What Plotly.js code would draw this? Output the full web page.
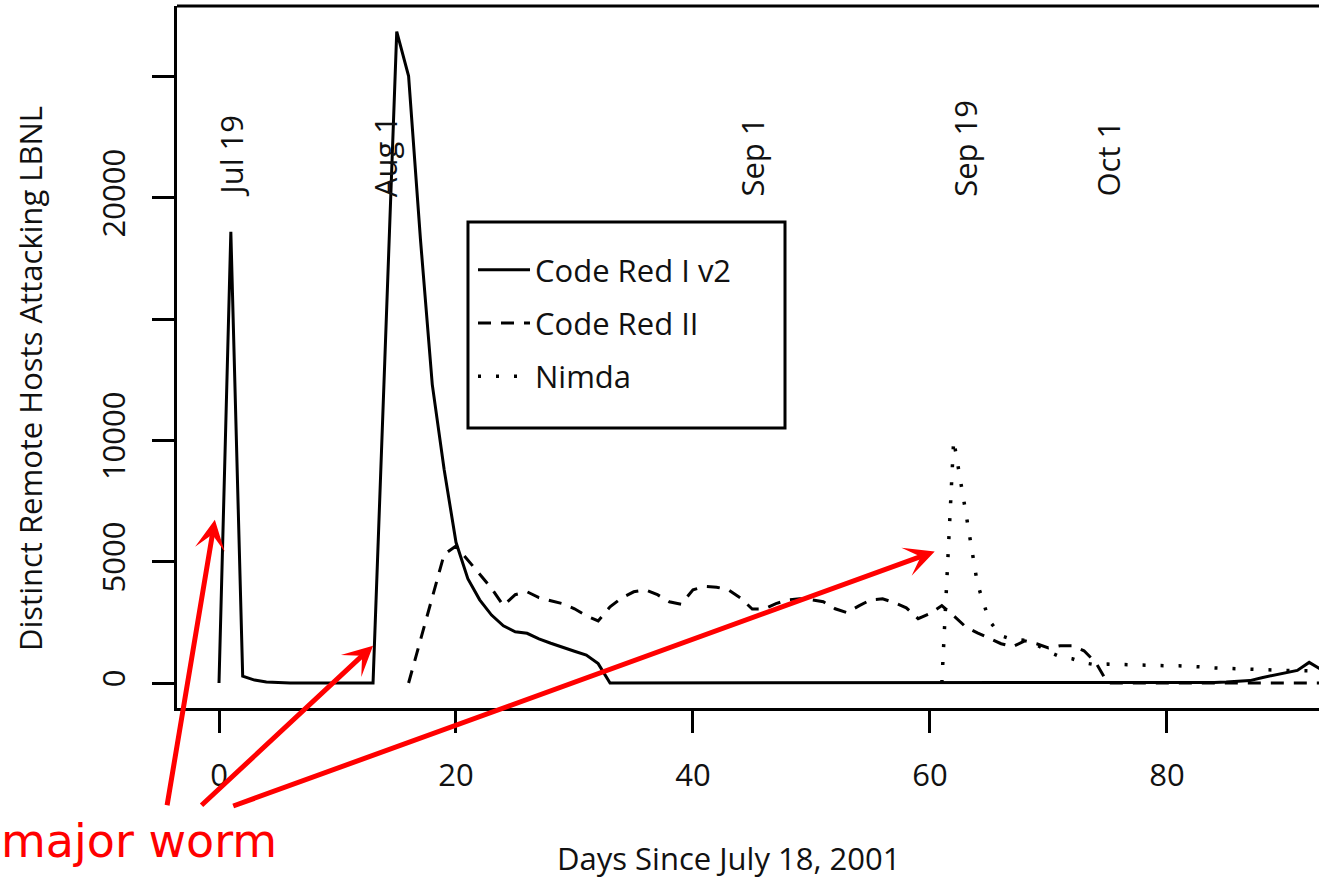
<!DOCTYPE html>
<html>
<head>
<meta charset="utf-8">
<script src="https://cdn.plot.ly/plotly-3.0.1.min.js"></script>
<style>
  html, body { margin: 0; padding: 0; background: #ffffff; overflow: hidden; }
  #chart { width: 1319px; height: 880px; }
</style>
</head>
<body>
<div id="chart"></div>
<script>
// ---- data ----
const days = [0,1,2,3,4,5,6,7,8,9,10,11,12,13,14,15,16,17,18,19,20,21,22,23,24,25,26,27,28,29,30,31,32,33,34,35,36,37,38,39,40,41,42,43,44,45,46,47,48,49,50,51,52,53,54,55,56,57,58,59,60,61,62,63,64,65,66,67,68,69,70,71,72,73,74,75,76,77,78,79,80,81,82,83,84,85,86,87,88,89,90,91,92,93,94];

const codeRedIv2 = [0,18600,280,120,40,10,0,0,0,0,0,0,0,0,13400,26850,25020,18300,12300,8800,5800,4300,3430,2800,2360,2110,2050,1820,1640,1460,1310,1150,800,0,0,0,0,0,0,0,0,0,0,0,0,0,0,0,0,0,0,0,0,0,0,0,0,0,0,0,0,0,0,0,0,0,0,0,0,0,0,0,0,0,0,0,0,0,0,0,0,0,0,10,25,40,60,100,220,330,420,520,850,560,500];

const codeRedII = [null,null,null,null,null,null,null,null,null,null,null,null,null,null,null,null,0,1780,3510,5300,5650,5080,4500,3900,3190,3640,3760,3520,3390,3270,3060,2770,2560,3140,3510,3760,3840,3640,3350,3250,3840,3980,3950,3840,3510,3050,3050,3270,3430,3470,3430,3350,3060,2900,3180,3430,3470,3310,3100,2650,2860,3190,2770,2320,2070,1830,1620,1500,1740,1620,1450,1540,1540,1330,840,0,0,0,0,0,0,0,0,0,0,0,0,0,0,0,0,0,0,0,0];

const nimda = [null,null,null,null,null,null,null,null,null,null,null,null,null,null,null,null,null,null,null,null,null,null,null,null,null,null,null,null,null,null,null,null,null,null,null,null,null,null,null,null,null,null,null,null,null,null,null,null,null,null,null,null,null,null,null,null,null,null,null,null,null,0,10020,7100,4100,2570,1950,1790,1760,1580,1290,1080,1000,830,750,780,760,740,720,715,710,710,700,660,620,600,570,550,540,530,520,510,500,500,490];

const seriesNames = ["Code Red I v2", "Code Red II", "Nimda"];
const xTickVals = [0, 20, 40, 60, 80];
const yTickVals = [0, 5000, 10000, 15000, 20000, 25000];
const yTickText = ["0", "5000", "10000", "", "20000", ""];

const eventDays = [1, 14, 45, 63, 75];
const eventLabels = ["Jul 19", "Aug 1", "Sep 1", "Sep 19", "Oct 1"];
const eventLabelBase = 20000;

const xTitle = "Days Since July 18, 2001";
const yTitle = "Distinct Remote Hosts Attacking LBNL";
const noteText = "major worm";
// arrow targets (day, value) for the three outbreaks
const arrowDays = [-0.35, 13.0, 60.4];
const arrowVals = [6730, 1540, 5420];

// ---- styling ----
const FONT = "Open Sans, Noto Sans, sans-serif";
const INK = "#111111";

const traces = [
  { x: days, y: codeRedIv2, name: seriesNames[0], mode: "lines", legendgroup: "a",
    line: { color: "#000000", width: 3 }, connectgaps: false },
  { x: days, y: codeRedII, name: seriesNames[1], mode: "lines", legendgroup: "b",
    line: { color: "#000000", width: 3, dash: "13px,10px" }, connectgaps: false },
  { x: days, y: nimda, name: seriesNames[2], mode: "lines", legendgroup: "c",
    line: { color: "#000000", width: 3.5, dash: "3px,15px" }, connectgaps: false }
];

const annotations = [];
eventDays.forEach((d, i) => {
  annotations.push({
    x: d, y: eventLabelBase, xref: "x", yref: "y", text: eventLabels[i],
    textangle: -90, showarrow: false, xanchor: "center", yanchor: "bottom",
    font: { family: FONT, size: 31, color: INK }, borderpad: 0
  });
});
annotations.push({
  xref: "paper", yref: "paper", x: 0.4825, y: -0.2137, text: xTitle, showarrow: false,
  xanchor: "center", yanchor: "middle", font: { family: FONT, size: 31, color: INK }
});
annotations.push({
  xref: "paper", yref: "paper", x: -0.1287, y: 0.4687, text: yTitle, showarrow: false,
  textangle: -90, xanchor: "center", yanchor: "middle", font: { family: FONT, size: 31, color: INK }
});
annotations.push({
  xref: "paper", yref: "paper", x: -0.1562, y: -0.1895, text: noteText, showarrow: false,
  xanchor: "left", yanchor: "middle", font: { family: "DejaVu Sans, sans-serif", size: 46, color: "#ff0000" }
});
const tails = [[-48, 287], [-173, 161], [-703, 255]];
arrowDays.forEach((d, i) => {
  annotations.push({
    x: d, y: arrowVals[i], xref: "x", yref: "y", text: "", showarrow: true,
    ax: tails[i][0], ay: tails[i][1], arrowcolor: "#ff0000", arrowwidth: 5,
    arrowhead: 3, arrowsize: 1, standoff: 0, startstandoff: 0
  });
});

const axisCommon = {
  showline: true, linecolor: "#000000", linewidth: 3, mirror: false,
  ticks: "outside", ticklen: 22, tickwidth: 3, tickcolor: "#000000",
  showgrid: false, zeroline: false, tickfont: { family: FONT, size: 31, color: INK }
};

const layout = {
  width: 1319, height: 880,
  margin: { l: 177, r: 0, t: 6, b: 172, pad: 0 },
  paper_bgcolor: "#ffffff", plot_bgcolor: "#ffffff",
  showlegend: true,
  xaxis: Object.assign({}, axisCommon, {
    range: [-3.544, 92.83], tickmode: "array", tickvals: xTickVals, ticklabelstandoff: 16
  }),
  yaxis: Object.assign({}, axisCommon, {
    range: [-1030, 27907], tickmode: "array", tickvals: yTickVals, ticktext: yTickText,
    tickangle: -90, ticklabelstandoff: 15
  }),
  legend: {
    x: 0.2592, y: 0.6624, xanchor: "left", yanchor: "top",
    bgcolor: "rgba(0,0,0,0)", borderwidth: 0, tracegroupgap: 10,
    font: { family: FONT, size: 31, color: INK }, itemwidth: 52
  },
  shapes: [
    { type: "line", xref: "paper", yref: "paper", x0: 0, x1: 1, y0: 1, y1: 1,
      line: { color: "#000000", width: 3 } },
    { type: "rect", xref: "paper", yref: "paper", x0: 0.2548, x1: 0.5324, y0: 0.3989, y1: 0.6923,
      line: { color: "#000000", width: 3 }, fillcolor: "rgba(255,255,255,0)", layer: "above" }
  ],
  annotations: annotations
};

Plotly.newPlot("chart", traces, layout, { displayModeBar: false, staticPlot: true });
</script>
</body>
</html>
